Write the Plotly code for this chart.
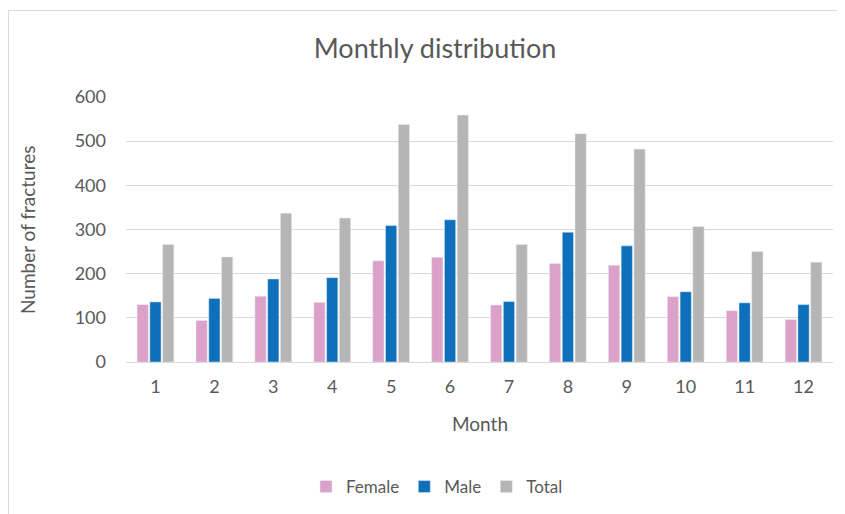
import plotly.graph_objects as go

months = ["1", "2", "3", "4", "5", "6", "7", "8", "9", "10", "11", "12"]
female = [130, 94, 149, 135, 229, 237, 129, 223, 219, 148, 116, 96]
male = [136, 144, 188, 191, 309, 322, 137, 294, 263, 159, 134, 130]
total = [266, 238, 337, 326, 538, 559, 266, 517, 482, 307, 250, 226]

FONT = "Lato"
GRAY = "#595959"
OFF = 8  # browser body margin

W, H = 845, 514
# desired on-screen plot area
SX0, SX1, SY0, SY1 = 126, 833, 97, 362
L = SX0 - OFF
T = SY0 - OFF
R = W - (SX1 - OFF)
B = H - (SY1 - OFF)
pw, ph = W - L - R, H - T - B

def px_to_paper_x(px):
    return (px - OFF - L) / pw

def py_to_paper_y(py):
    return (H - B - (py - OFF)) / ph

fig = go.Figure()
fig.add_trace(go.Bar(name="Female", x=months, y=female, marker=dict(color="#DBA1C9")))
fig.add_trace(go.Bar(name="Male", x=months, y=male, marker=dict(color="#0E70BA")))
fig.add_trace(go.Bar(name="Total", x=months, y=total, marker=dict(color="#B5B5B5")))

fig.update_layout(
    width=W, height=H,
    margin=dict(l=L, r=R, t=T, b=B, autoexpand=False),
    paper_bgcolor="white", plot_bgcolor="white",
    barmode="group", bargap=0.35, bargroupgap=0.12,
    font=dict(family=FONT, color=GRAY, size=16),
    title=dict(text="Monthly distribution", x=(435 - OFF) / W, xanchor="center",
               y=1 - (49 - OFF) / H, yanchor="middle", font=dict(size=27, color=GRAY, family=FONT)),
    showlegend=True,
    legend=dict(orientation="h", x=px_to_paper_x(437), xanchor="center",
                y=py_to_paper_y(487), yanchor="middle",
                font=dict(size=17, color=GRAY, family=FONT),
                traceorder="normal"),
    xaxis=dict(showgrid=False, showline=True, linecolor="#D9D9D9", linewidth=1,
               ticks="", tickangle=0, automargin=False, ticklabelstandoff=8,
               tickfont=dict(size=18, color=GRAY), fixedrange=True),
    yaxis=dict(range=[0, 600], dtick=100, showgrid=True, gridcolor="#D9D9D9", gridwidth=1,
               zeroline=False, showline=False, ticks="", ticklabelstandoff=19, automargin=False,
               tickfont=dict(size=18, color=GRAY)),
    annotations=[
        dict(text="Month", xref="paper", yref="paper", x=0.5, y=py_to_paper_y(423),
             xanchor="center", yanchor="middle", showarrow=False,
             font=dict(size=19, color=GRAY, family=FONT)),
        dict(text="Number of fractures", xref="paper", yref="paper",
             x=px_to_paper_x(27), y=py_to_paper_y(230), textangle=-90,
             xanchor="center", yanchor="middle", showarrow=False,
             font=dict(size=19, color=GRAY, family=FONT)),
    ],
    shapes=[
        dict(type="rect", xref="paper", yref="paper",
             x0=px_to_paper_x(8.5), x1=px_to_paper_x(860),
             y0=py_to_paper_y(540), y1=py_to_paper_y(10.5),
             line=dict(color="#D9D9D9", width=1), fillcolor="rgba(0,0,0,0)", layer="below"),
    ],
)

fig.write_html("out.html")
